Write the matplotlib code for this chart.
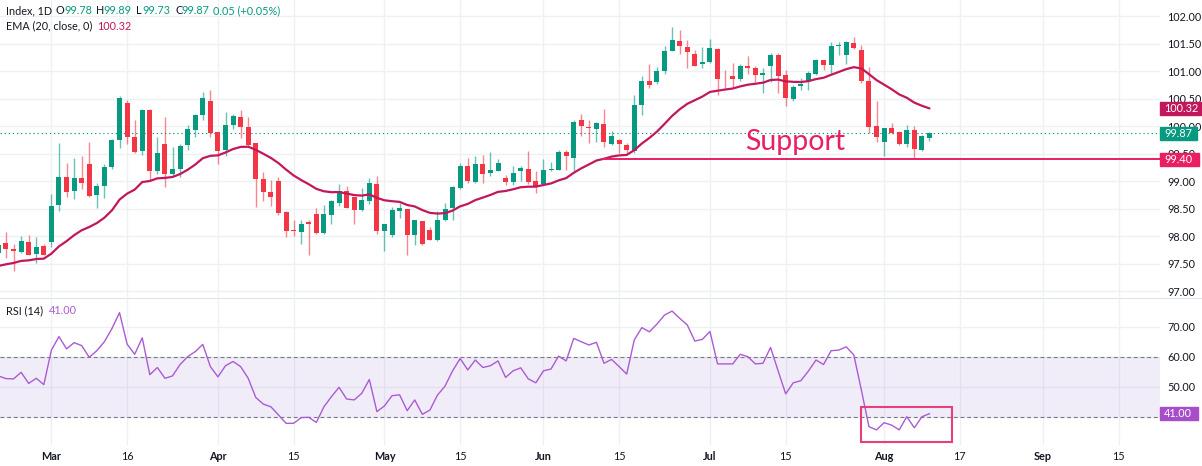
import numpy as np
import matplotlib.pyplot as plt
from matplotlib.patches import Rectangle
from matplotlib.ticker import FormatStrFormatter
from matplotlib.transforms import blended_transform_factory

plt.rcParams['font.family'] = ['Lato', 'DejaVu Sans']

# ---------------------------------------------------------------------------
# data
# ---------------------------------------------------------------------------

opens = [97.69, 97.87, 97.77, 97.71, 97.89, 97.68, 97.83, 97.90, 98.57, 99.08,
         98.82, 99.05, 99.31, 98.75, 98.92, 99.26, 99.75, 100.43, 99.80, 99.55,
         100.29, 99.19, 99.68, 99.14, 99.22, 99.65, 99.93, 100.20, 100.46, 99.89,
         99.57, 100.02, 100.17, 99.99, 99.70, 99.04, 98.80, 99.00, 98.44, 98.11,
         98.08, 98.26, 98.40, 98.06, 98.38, 98.61, 98.82, 98.72, 98.47, 98.64,
         98.95, 98.10, 98.03, 98.46, 98.50, 98.03, 98.28, 98.11, 97.93, 98.29,
         98.51, 98.87, 99.28, 98.98, 99.32, 99.15, 99.19, 99.06, 98.98, 99.19,
         99.23, 99.01, 98.95, 99.20, 99.21, 99.53, 99.43, 100.12, 99.98, 99.95,
         100.04, 99.68, 99.75, 99.66, 99.55, 100.38, 100.83, 100.80, 101.01, 101.36,
         101.55, 101.44, 101.32, 101.14, 101.16, 101.41, 100.88, 100.91, 100.86, 101.09,
         101.05, 100.93, 101.09, 101.29, 100.94, 100.50, 100.74, 100.82, 100.95, 101.21,
         101.11, 101.45, 101.29, 101.51, 101.39, 100.82, 100.00, 99.71, 99.97, 99.89,
         99.68, 99.94, 99.56, 99.78]
highs = [97.90, 98.07, 97.86, 98.01, 98.02, 97.99, 97.86, 98.77, 99.69, 99.33,
         99.42, 99.45, 99.71, 98.96, 99.31, 99.76, 100.55, 100.48, 100.11, 100.31,
         100.31, 99.80, 100.16, 99.63, 99.67, 100.02, 100.23, 100.62, 100.65, 99.90,
         100.25, 100.23, 100.29, 100.16, 99.70, 99.17, 99.02, 99.08, 98.46, 98.29,
         98.29, 98.29, 98.51, 98.57, 98.66, 98.95, 98.92, 98.72, 98.88, 99.06,
         99.09, 98.23, 98.54, 98.60, 98.50, 98.29, 98.28, 98.17, 98.46, 98.61,
         98.91, 99.34, 99.43, 99.45, 99.48, 99.53, 99.41, 99.12, 99.27, 99.27,
         99.55, 99.19, 99.40, 99.35, 99.57, 99.57, 100.12, 100.22, 100.12, 100.07,
         100.32, 99.92, 99.76, 99.69, 100.57, 100.92, 101.14, 101.08, 101.45, 101.80,
         101.75, 101.57, 101.39, 101.44, 101.59, 101.42, 101.02, 101.15, 101.13, 101.27,
         101.09, 101.06, 101.34, 101.33, 101.03, 100.75, 100.88, 101.01, 101.22, 101.21,
         101.54, 101.54, 101.55, 101.63, 101.48, 101.07, 100.46, 99.97, 100.06, 99.91,
         100.03, 100.00, 99.84, 99.89]
lows = [97.60, 97.60, 97.37, 97.69, 97.65, 97.51, 97.65, 97.80, 98.45, 98.72,
        98.68, 98.86, 98.72, 98.51, 98.70, 99.23, 99.60, 99.68, 99.52, 99.47,
        99.02, 99.14, 98.90, 99.08, 99.08, 99.57, 99.81, 100.11, 99.81, 99.31,
        99.46, 99.95, 99.78, 99.63, 98.54, 98.64, 98.55, 98.38, 97.99, 98.00,
        97.85, 97.66, 98.04, 98.04, 98.23, 98.55, 98.51, 98.22, 98.45, 98.58,
        98.04, 97.74, 97.99, 98.34, 97.65, 97.84, 97.84, 97.93, 97.92, 98.28,
        98.29, 98.85, 98.96, 98.97, 98.97, 99.09, 99.18, 98.94, 98.94, 99.00,
        98.95, 98.78, 98.94, 99.18, 99.20, 99.20, 99.19, 99.83, 99.69, 99.72,
        99.62, 99.65, 99.51, 99.52, 99.51, 100.21, 100.69, 100.77, 100.95, 101.36,
        101.31, 101.05, 101.09, 101.05, 101.15, 100.56, 100.69, 100.72, 100.82, 100.95,
        100.80, 100.60, 100.80, 100.60, 100.36, 100.45, 100.66, 100.65, 100.94, 101.03,
        100.97, 101.30, 101.13, 101.41, 100.79, 99.88, 99.72, 99.45, 99.85, 99.65,
        99.63, 99.43, 99.55, 99.73]
closes = [97.84, 97.77, 97.74, 97.91, 97.66, 97.81, 97.66, 98.55, 99.07, 98.81,
          99.05, 98.96, 98.73, 98.92, 99.26, 99.75, 100.51, 99.81, 99.54, 100.29,
          99.19, 99.51, 99.14, 99.23, 99.64, 99.95, 100.20, 100.51, 99.88, 99.55,
          100.02, 100.18, 99.99, 99.66, 99.04, 98.81, 98.71, 98.43, 98.10, 98.09,
          98.22, 98.23, 98.06, 98.40, 98.64, 98.83, 98.52, 98.48, 98.65, 98.97,
          98.10, 98.23, 98.48, 98.51, 98.03, 98.29, 97.85, 97.94, 98.29, 98.50,
          98.90, 99.28, 99.00, 99.32, 99.14, 99.21, 99.33, 98.98, 99.15, 99.24,
          98.99, 98.92, 99.21, 99.23, 99.54, 99.45, 100.07, 100.01, 99.97, 100.06,
          99.71, 99.82, 99.68, 99.56, 100.39, 100.83, 100.75, 101.00, 101.37, 101.57,
          101.45, 101.35, 101.10, 101.17, 101.42, 100.86, 100.87, 100.86, 101.09, 101.05,
          100.94, 100.97, 101.30, 100.92, 100.52, 100.72, 100.77, 100.97, 101.21, 101.11,
          101.45, 101.47, 101.53, 101.42, 100.82, 99.98, 99.80, 99.97, 99.88, 99.68,
          99.94, 99.59, 99.83, 99.87]
rsi = [53.6, 52.7, 52.6, 54.8, 51.1, 52.8, 50.7, 62.2, 66.7, 62.6,
       64.7, 63.7, 59.8, 62.0, 65.0, 69.4, 74.7, 64.2, 60.8, 66.3,
       54.0, 56.4, 52.8, 53.6, 57.4, 60.0, 61.7, 64.1, 56.7, 53.3,
       57.0, 58.4, 56.7, 52.8, 46.4, 44.2, 43.3, 40.6, 37.8, 37.8,
       39.7, 39.8, 38.1, 43.3, 46.7, 49.8, 45.9, 45.6, 47.8, 52.4,
       41.7, 43.6, 47.0, 47.3, 42.0, 45.6, 40.8, 42.2, 47.2, 50.2,
       55.3, 59.4, 55.6, 58.9, 56.4, 57.0, 58.6, 53.1, 55.3, 56.3,
       52.6, 51.3, 55.3, 55.9, 60.2, 58.6, 66.1, 65.0, 63.9, 64.8,
       57.8, 59.1, 56.7, 54.2, 65.6, 69.7, 68.3, 70.9, 73.9, 75.2,
       72.8, 70.6, 65.2, 65.8, 68.4, 57.6, 57.6, 57.6, 60.8, 60.0,
       57.6, 57.8, 63.1, 55.3, 47.6, 51.3, 52.0, 55.2, 58.9, 57.4,
       62.0, 62.2, 63.3, 60.6, 48.9, 36.7, 35.6, 38.0, 37.2, 35.6,
       40.0, 36.3, 40.0, 41.0]

# bar index of each date label
tick_pos = [7, 17, 29, 39, 51, 61, 72, 82, 94, 104, 117, 127, 138, 148]
tick_lab = ['Mar', '16', 'Apr', '15', 'May', '15', 'Jun', '15', 'Jul', '15',
            'Aug', '17', 'Sep', '15']

ema_len = 20
ema_prev = 97.42      # EMA value just before the first visible bar
support = 99.40
last_price = 99.87
change = 0.05
change_pct = 0.05

# ---------------------------------------------------------------------------
# colours
# ---------------------------------------------------------------------------
GREEN = '#089981'
RED = '#f23645'
EMA_C = '#c2185b'
PINK = '#e91e63'
RSI_C = '#ab5bd3'
TXT = '#131722'
GRID = '#eef0f4'

o = np.array(opens)
h = np.array(highs)
l = np.array(lows)
c = np.array(closes)
x = np.arange(len(c))

# EMA(20, close)
alpha = 2.0 / (ema_len + 1)
ema = []
prev = ema_prev
for v in c:
    prev = prev + alpha * (v - prev)
    ema.append(prev)
ema = np.array(ema)

# ---------------------------------------------------------------------------
# layout (pixel boxes)
# ---------------------------------------------------------------------------
W, H = 1202, 466
fig = plt.figure(figsize=(W / 100, H / 100), dpi=100)
fig.patch.set_facecolor('white')


def px_axes(x0, y0, x1, y1):
    return fig.add_axes([x0 / W, 1 - y1 / H, (x1 - x0) / W, (y1 - y0) / H])


ax = px_axes(0, 0, 1160, 297)
ax2 = px_axes(0, 298, 1160, 445)

xlim = (0.21, 153.45)
for a in (ax, ax2):
    a.set_xlim(*xlim)
    for s in a.spines.values():
        s.set_visible(False)
    a.set_xticks(tick_pos)
    a.grid(True, color=GRID, lw=1, zorder=0)
    a.set_axisbelow(True)
    a.yaxis.tick_right()
    a.tick_params(axis='both', length=0, labelsize=7.8, labelcolor=TXT)
    a.tick_params(axis='y', pad=5)
    a.yaxis.set_major_formatter(FormatStrFormatter('%.2f'))

# ---------------- price pane ----------------
ax.set_ylim(96.895, 102.295)
ax.set_yticks(np.arange(97.0, 102.01, 0.5))
ax.tick_params(axis='x', labelbottom=False)

up = c >= o
cols = np.where(up, GREEN, RED)
ax.vlines(x, l, h, colors=cols, lw=1, alpha=0.6, zorder=2)
ax.bar(x, np.maximum(np.abs(c - o), 0.012), bottom=np.minimum(o, c),
       width=0.66, color=cols, lw=0, zorder=3)

ax.plot(x, ema, color=EMA_C, lw=1.6, zorder=4, solid_capstyle='round')
ax.axhline(last_price, color=GREEN, lw=0.8, ls=(0, (1.2, 2.5)), zorder=1)
ax.hlines(support, 79.7, xlim[1], color=PINK, lw=1.4, zorder=4)
ax.text(98.6, 99.57, 'Support', color=PINK, fontsize=20.5, va='baseline',
        ha='left', zorder=5)

# ---------------- RSI pane ----------------
ax2.set_ylim(30.57, 79.57)
ax2.set_yticks([40, 50, 60, 70])
ax2.set_xticklabels(tick_lab)
ax2.tick_params(axis='x', pad=4)
for lbl, t in zip(ax2.get_xticklabels(), tick_lab):
    if t.isalpha():
        lbl.set_fontweight('bold')

ax2.axhspan(40, 60, color='#7e57c2', alpha=0.1, lw=0, zorder=1)
for lev in (40, 60):
    ax2.axhline(lev, color='#787b86', lw=0.8, ls=(0, (3.5, 2.5)), zorder=2)
ax2.plot(x, rsi, color=RSI_C, lw=1, zorder=3)
ax2.add_patch(Rectangle((113.9, 31.67), 12.07, 11.66, fill=False,
                        ec='#e5407c', lw=1.5, zorder=5))

# separator between panes
fig.add_artist(plt.Line2D([0, 1], [1 - 297.5 / H, 1 - 297.5 / H],
                          color='#e0e3eb', lw=0.8))


# ---------------- price-scale tags ----------------
def tag(a, val, text, bg, width, hpx, per_px):
    tr = blended_transform_factory(fig.transFigure, a.transData)
    hh = hpx * per_px
    a.add_patch(Rectangle((1160 / W, val - hh / 2), width / W, hh,
                          transform=tr, color=bg, clip_on=False, zorder=10))
    a.text(1164 / W, val, text, transform=tr, color='white', fontsize=7.8,
           va='center', ha='left', clip_on=False, zorder=11)


tag(ax, ema[-1], '%.2f' % ema[-1], EMA_C, 41, 13, 1 / 55)
tag(ax, last_price, '%.2f' % last_price, GREEN, 37, 13, 1 / 55)
tag(ax, support, '%.2f' % support, PINK, 39, 13, 1 / 55)
tag(ax2, rsi[-1], '%.2f' % rsi[-1], '#a64dc9', 38, 13, 1 / 3)


# ---------------- legends ----------------
def put(a, px, py, s, color):
    a.annotate(s, xy=(0, 1), xycoords='axes fraction',
               xytext=(px * 0.72, -py * 0.72), textcoords='offset points',
               va='center', ha='left', fontsize=7.8, color=color)


pieces = [(6, 'Index, 1D', TXT), (56, 'O', TXT), (64, '%.2f' % o[-1], GREEN),
          (96, 'H', TXT), (103, '%.2f' % h[-1], GREEN),
          (136, 'L', TXT), (142, '%.2f' % l[-1], GREEN),
          (175, 'C', TXT), (181, '%.2f' % c[-1], GREEN),
          (213, '%.2f (+%.2f%%)' % (change, change_pct), GREEN)]
for px, s, col in pieces:
    put(ax, px, 11, s, col)
put(ax, 6, 26, 'EMA (20, close, 0)', TXT)
put(ax, 97, 26, '%.2f' % ema[-1], EMA_C)
put(ax2, 6, 13, 'RSI (14)', TXT)
put(ax2, 49, 13, '%.2f' % rsi[-1], RSI_C)

fig.savefig('out.png', dpi=100, facecolor='white')
